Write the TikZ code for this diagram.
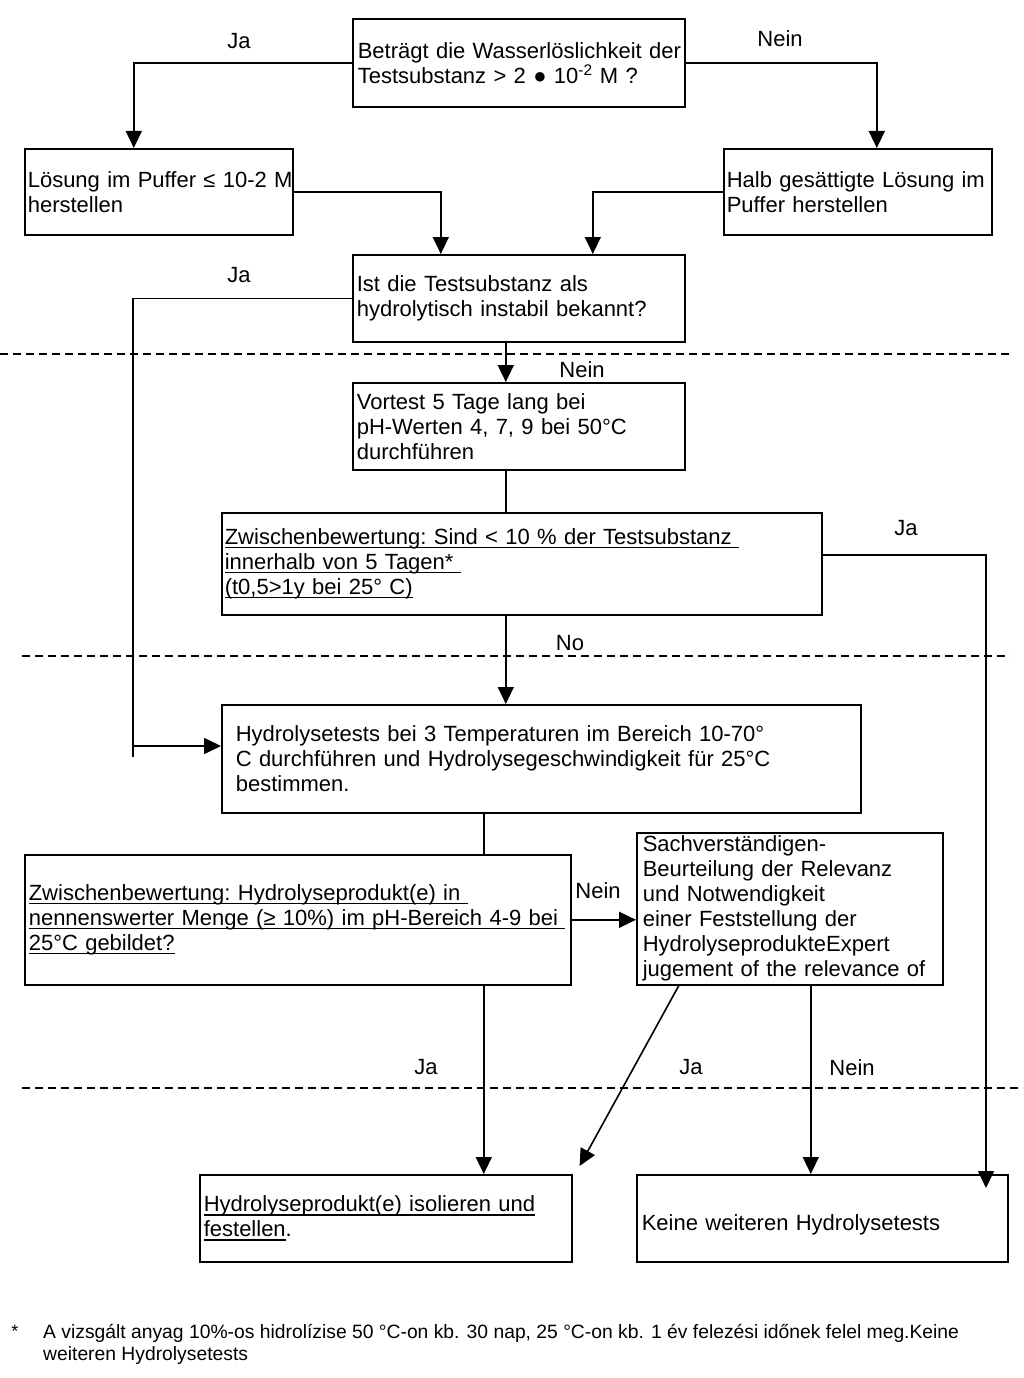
\documentclass[tikz,border=0pt]{standalone}
\usepackage{fontspec}
\setmainfont{Liberation Sans}
\usetikzlibrary{arrows.meta,positioning}
\newcommand{\uln}[1]{\leavevmode\setbox0=\hbox{#1}\rlap{\vrule width\wd0 height -2.5pt depth 4pt}\box0}

\begin{document}
\begin{tikzpicture}[x=1pt, y=-1pt,
  font=\fontsize{22}{25}\selectfont\frenchspacing,
  box/.style={draw, line width=1.6pt, align=left, anchor=north west, inner ysep=0pt, inner xsep=4pt},
  arr/.style={line width=1.6pt, -{Triangle[length=17pt,width=16pt]}},
  link/.style={line width=1.6pt},
  sep/.style={line width=1.3pt, dash pattern=on 8pt off 5pt},
  lbl/.style={inner sep=0pt}]
  \useasboundingbox (0,0) rectangle (1023,1378);

  % boxes
  \node[box, minimum width=332pt, minimum height=88pt, text width=322pt, inner xsep=5pt] (q1) at (352,18)
    {\mbox{Beträgt die Wasserlöslichkeit der}\\Testsubstanz > 2 ● 10\textsuperscript{-2} M ?};
  \node[box, minimum width=268pt, minimum height=86pt, text width=262pt, inner xsep=3pt] (sol1) at (24,148)
    {\mbox{Lösung im Puffer ≤ 10-2 M}\\herstellen};
  \node[box, minimum width=268pt, minimum height=86pt, text width=262pt, inner xsep=3pt] (sol2) at (723,148)
    {Halb gesättigte Lösung im\\Puffer herstellen};
  \node[box, minimum width=332pt, minimum height=87pt, text width=324pt] (q2) at (352,254)
    {Ist die Testsubstanz als\\hydrolytisch instabil bekannt?};
  \node[box, minimum width=332pt, minimum height=87pt, text width=324pt] (vor) at (352,382)
    {Vortest 5 Tage lang bei\\pH-Werten 4, 7, 9 bei 50°C\\durchführen};
  \node[box, minimum width=600pt, minimum height=102pt, text width=594pt, inner xsep=3pt] (zw1) at (221,512)
    {\uln{Zwischenbewertung: Sind < 10 \% der Testsubstanz\ }\\\uln{innerhalb von 5 Tagen*\ }\\\uln{(t0,5>1y bei 25° C)}};
  \node[box, minimum width=639pt, minimum height=108pt, text width=611pt, inner xsep=14pt] (hyd) at (221,704)
    {Hydrolysetests bei 3 Temperaturen im Bereich 10-70°\\C durchführen und Hydrolysegeschwindigkeit für 25°C\\bestimmen.};
  \node[box, minimum width=546pt, minimum height=130pt, text width=538pt] (zw2) at (24,854)
    {\uln{Zwischenbewertung: Hydrolyseprodukt(e) in\ }\\\uln{nennenswerter Menge (≥ 10\%) im pH-Bereich 4-9 bei\ }\\\uln{25°C gebildet?}};
  \node[box, minimum width=306pt, minimum height=152pt, text width=294pt, inner xsep=6pt] (expert) at (636,832)
    {Sachverständigen-\\Beurteilung der Relevanz\\und Notwendigkeit\\einer Feststellung der\\HydrolyseprodukteExpert\\jugement of the relevance of};
  \node[box, minimum width=372pt, minimum height=87pt, text width=364pt] (iso) at (199,1174)
    {\uln{Hydrolyseprodukt(e) isolieren und}\\\uln{festellen}.};
  \node[box, minimum width=371pt, minimum height=87pt, text width=361pt, inner xsep=5pt] (keine) at (636,1174)
    {\rule{0pt}{29pt}Keine weiteren Hydrolysetests};

  % stage separators
  \draw[sep] (0,354) -- (1010,354);
  \draw[sep] (22,656) -- (1010,656);
  \draw[sep] (22,1088) -- (1023,1088);

  % connectors
  \draw[arr] (q1.west) -| ([xshift=-25pt]sol1.north);
  \draw[arr] (q1.east) -| ([xshift=19pt]sol2.north);
  \draw[arr] (sol1.east) -| ([xshift=-78pt]q2.north);
  \draw[arr] (sol2.west) -| ([xshift=74pt]q2.north);
  \coordinate (jaTurn) at (133,746);
  \draw[arr] (q2.west) -| (jaTurn) -- (jaTurn -| hyd.west);
  \draw[link] (jaTurn) -- ++(0,11);
  \draw[arr] ([xshift=-13pt]q2.south) -- ([xshift=-13pt]vor.north);
  \draw[link] ([xshift=-13pt]vor.south) -- ([xshift=-16pt]zw1.north);
  \coordinate (jaEnd) at (986,1188);
  \draw[arr] ([yshift=9pt]zw1.east) -| (jaEnd);
  \draw[arr] ([xshift=-16pt]zw1.south) -- ([xshift=-35.5pt]hyd.north);
  \draw[link] ([xshift=-57.5pt]hyd.south) -- ([xshift=186pt]zw2.north);
  \draw[arr] (zw2.east) -- (zw2.east -| expert.west);
  \draw[arr] ([xshift=186pt]zw2.south) -- ([xshift=98pt]iso.north);
  \draw[arr] ([xshift=-111pt]expert.south) -- ([xshift=7pt,yshift=8pt]iso.north east);
  \draw[arr] ([xshift=21pt]expert.south) -- ([xshift=-11.5pt]keine.north);

  % labels
  \node[lbl] (jaA) at (239,41) {Ja};
  \node[lbl] (neinA) at (780,39) {Nein};
  \node[lbl] (jaB) at (239,275) {Ja};
  \node[lbl] (neinB) at (582,370) {Nein};
  \node[lbl] (jaC) at (906,528) {Ja};
  \node[lbl] (noC) at (570,643) {No};
  \node[lbl] (neinD) at (598,891) {Nein};
  \node[lbl] (jaD) at (426,1067) {Ja};
  \node[lbl] (jaE) at (691,1067) {Ja};
  \node[lbl] (neinE) at (852,1068) {Nein};

  % footnote
  \node[lbl, font=\fontsize{18}{18}\selectfont] (star) at (15,1331) {*};
  \node[lbl, anchor=north west, align=left, font=\fontsize{19.3}{22}\selectfont] (note) at (43,1324)
    {A vizsgált anyag 10\%-os hidrolízise 50 °C-on kb. 30 nap, 25 °C-on kb. 1 év felezési időnek felel meg.Keine\\weiteren Hydrolysetests};
\end{tikzpicture}
\end{document}
